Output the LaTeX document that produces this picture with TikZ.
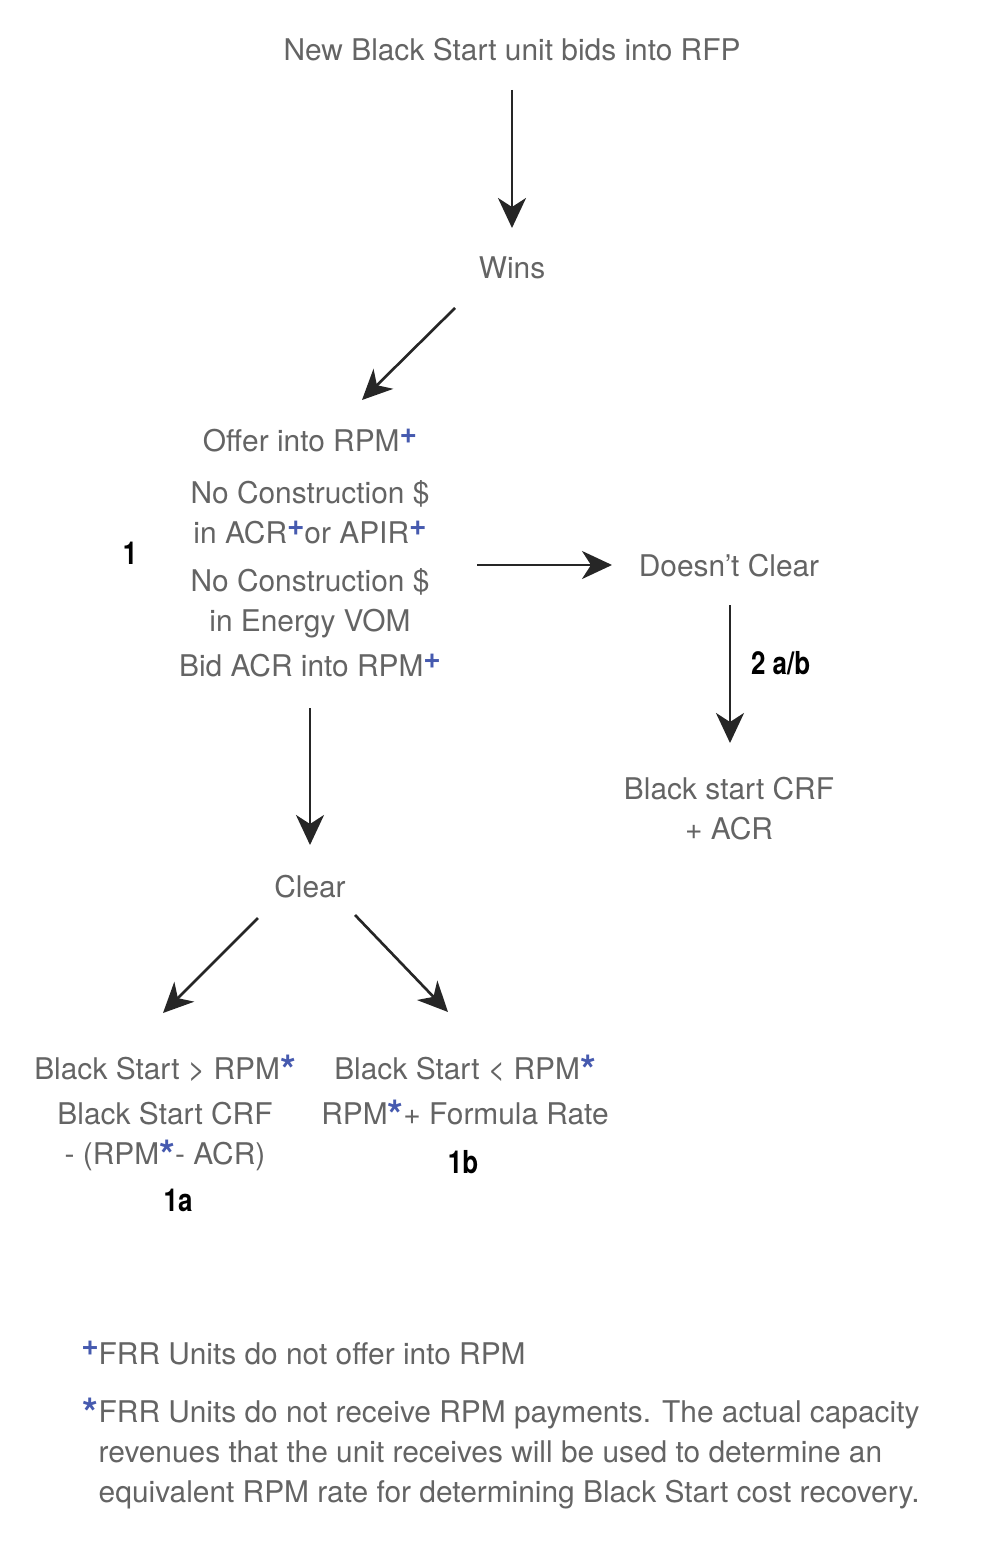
\documentclass[tikz,border=0pt]{standalone}
\usepackage{fontspec}
\setmainfont{TeX Gyre Heros}
\newfontfamily\numfont[FakeStretch=0.82]{TeX Gyre Heros}
\usetikzlibrary{positioning}
\usetikzlibrary{arrows.meta}
\usetikzlibrary{calc}
\definecolor{txtgray}{RGB}{100,100,100}
\definecolor{markblue}{RGB}{70,90,175}
\newcommand{\pmark}{\textcolor{markblue}{\raisebox{2.4pt}{\bfseries\fontsize{8.5}{8.5}\selectfont +}}}
\newcommand{\smark}{\textcolor{markblue}{\raisebox{-1.3pt}{\bfseries\fontsize{11.5}{11.5}\selectfont *}}}
\tikzset{
  txt/.style={font=\fontsize{8.5}{11.4}\selectfont, text=txtgray, align=center},
  numlbl/.style={font=\numfont\bfseries\fontsize{9}{10}\selectfont, text=black},
  arr/.style={-{Stealth[length=3mm,width=2.8mm,inset=0.9mm]}, line width=0.75pt, black!85}
}
\begin{document}
\begin{tikzpicture}[x=0.1mm, y=-0.1mm]
  \useasboundingbox[fill=white] (0,0) rectangle (1000,1555);
  % steps of the flow
  \node[txt] (bid)   at (512,50)  {New Black Start unit bids into RFP};
  \node[txt] (wins)  at (512,268) {Wins};
  \node[txt] (offer) at (310,553) {Offer into RPM\pmark\\[3.4pt]
      No Construction \$\\ in ACR\pmark{}or APIR\pmark\\[2.3pt]
      No Construction \$\\ in Energy VOM\\[1.4pt]
      Bid ACR into RPM\pmark};
  \node[numlbl] (one) at (130,553) {1};
  \node[txt] (dc)    at (729,566) {Doesn't Clear};
  \node[txt] (crf)   at (729,809) {Black start CRF\\ + ACR};
  \node[txt] (clear) at (310,887) {Clear};
  % the two outcomes after clearing
  \node[txt] (bsgt)  at (165,1113) {Black Start > RPM\smark\\[1.3pt]
      Black Start CRF\\ - (RPM\smark- ACR)};
  \node[numlbl] (onea) at (178,1200) {1a};
  \node[txt] (bslt)  at (465,1092) {Black Start < RPM\smark\\[1.3pt]
      RPM\smark+ Formula Rate};
  \node[numlbl] (oneb) at (463,1162) {1b};
  % arrows
  \draw[arr] ($(bid)+(0,40)$)     -- ($(wins)+(0,-40)$);
  \draw[arr] ($(wins)+(-57,40)$)  -- ($(offer)+(52,-153)$);
  \draw[arr] ($(offer)+(167,12)$) -- ($(dc)+(-117,-1)$);
  \draw[arr] ($(dc)+(1,39)$)      -- ($(crf)+(1,-66)$)
      node[midway, right=0.8mm, yshift=1.1mm, numlbl] (twoab) {2 a/b};
  \draw[arr] ($(offer)+(0,155)$)  -- ($(clear)+(0,-42)$);
  \draw[arr] ($(clear)+(-52,31)$) -- ($(bsgt)+(-2,-100)$);
  \draw[arr] ($(clear)+(45,28)$)  -- ($(bslt)+(-17,-80)$);
  % footnotes
  \node[txt, anchor=west, inner sep=0pt] (fnplus) at (98,1353)
      {\llap{\pmark}FRR Units do not offer into RPM};
  \node[txt, align=left, anchor=north west, inner sep=0pt] (fnstar) at (98,1397)
      {\llap{\smark}FRR Units do not receive RPM payments. The actual capacity\\
       revenues that the unit receives will be used to determine an\\
       equivalent RPM rate for determining Black Start cost recovery.};
\end{tikzpicture}
\end{document}
